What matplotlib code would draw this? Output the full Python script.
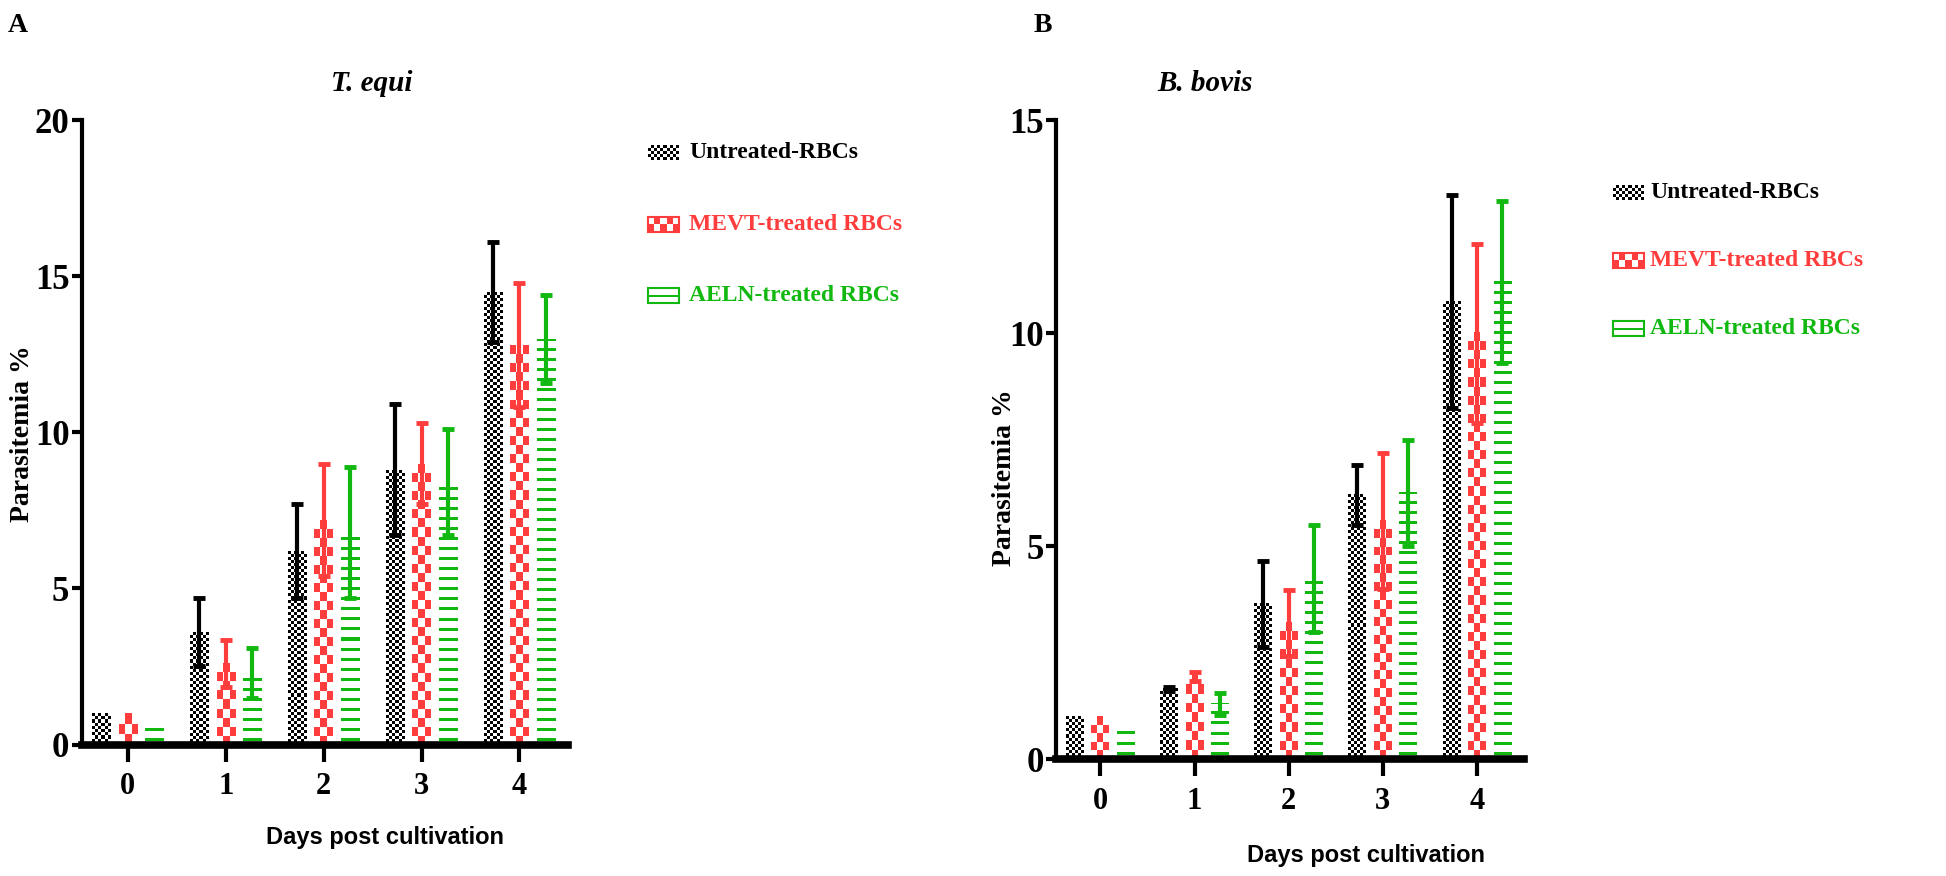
import numpy as np
import matplotlib
matplotlib.use('Agg')
import matplotlib.pyplot as plt
from matplotlib.colors import ListedColormap

plt.rcParams['font.family'] = 'Liberation Serif'

days = [0, 1, 2, 3, 4]
group_names = ['Untreated-RBCs', 'MEVT-treated RBCs', 'AELN-treated RBCs']
group_colors = ['black', '#FF3D3D', '#10B810']
group_fills = ['fine', 'coarse', 'lines']

# T. equi, parasitemia % (mean and SD)
equi_untreated = [1.0, 3.6, 6.2, 8.8, 14.5]
equi_untreated_sd = [0, 1.1, 1.5, 2.1, 1.6]
equi_mevt = [1.0, 2.6, 7.2, 9.0, 12.8]
equi_mevt_sd = [0, 0.75, 1.8, 1.3, 2.0]
equi_aeln = [0.7, 2.3, 6.8, 8.4, 13.0]
equi_aeln_sd = [0, 0.8, 2.1, 1.7, 1.4]

# B. bovis, parasitemia % (mean and SD)
bovis_untreated = [1.0, 1.65, 3.65, 6.2, 10.75]
bovis_untreated_sd = [0, 0.05, 1.0, 0.7, 2.5]
bovis_mevt = [1.0, 1.95, 3.2, 5.6, 10.0]
bovis_mevt_sd = [0, 0.1, 0.77, 1.6, 2.1]
bovis_aeln = [0.8, 1.3, 4.25, 6.25, 11.2]
bovis_aeln_sd = [0, 0.25, 1.25, 1.25, 1.9]

BAR_W = 0.19
OFFSET = 0.27


def pattern_array(kind, w_px, h_px):
    """Build a small image with the fill pattern for a bar of w_px x h_px."""
    if kind == 'fine':
        nx, ny = max(1, round(w_px / 3)), max(1, round(h_px / 3))
        return np.indices((ny, nx)).sum(axis=0) % 2
    if kind == 'coarse':
        nx, ny = max(1, round(w_px / 6)), max(1, round(h_px / 9))
        return np.indices((ny, nx)).sum(axis=0) % 2
    ny = max(1, int(round(h_px)))
    rows = np.arange(ny)
    return (((rows % 10) >= 4) & ((rows % 10) < 7)).astype(int).reshape(-1, 1)


def fill_rect(ax, x0, y0, width, height, kind, color):
    p0 = ax.transData.transform((0, 0))
    p1 = ax.transData.transform((1, 1))
    ppx, ppy = p1 - p0
    arr = pattern_array(kind, width * ppx, height * ppy)
    cmap = ListedColormap(['white', color])
    ax.imshow(arr, cmap=cmap, vmin=0, vmax=1, interpolation='nearest',
              extent=(x0, x0 + width, y0 + height, y0), origin='upper',
              aspect='auto', zorder=2)


def draw_panel(ax, series, sds, ymax, yticks):
    ax.set_xlim(-0.47, 4.5)
    ax.set_ylim(0, ymax)
    x = np.array(days, dtype=float)
    for i, (vals, sd) in enumerate(zip(series, sds)):
        xs = x + (i - 1) * OFFSET
        for xi, v in zip(xs, vals):
            fill_rect(ax, xi - BAR_W / 2, 0, BAR_W, v, group_fills[i], group_colors[i])
        sd = np.array(sd)
        m = sd > 0
        ax.errorbar(xs[m], np.array(vals)[m], yerr=sd[m], fmt='none',
                    ecolor=group_colors[i], elinewidth=3, capsize=4,
                    capthick=3.5, zorder=4)
    ax.set_xlim(-0.47, 4.5)
    ax.set_ylim(0, ymax)
    ax.spines['top'].set_visible(False)
    ax.spines['right'].set_visible(False)
    ax.spines['left'].set_linewidth(3)
    ax.spines['bottom'].set_linewidth(5.5)
    ax.spines['bottom'].set_zorder(6)
    ax.set_xticks(days)
    ax.set_yticks(yticks)
    ax.tick_params(axis='y', length=7, width=3, labelsize=25, pad=2)
    ax.tick_params(axis='x', length=12, width=3, labelsize=22, pad=8)
    for lab in ax.get_xticklabels() + ax.get_yticklabels():
        lab.set_fontweight('bold')


def draw_legend(fig, x_sw, x_txt, ys):
    W = fig.get_figwidth() * fig.dpi
    H = fig.get_figheight() * fig.dpi
    sw, sh = 31 / W, 15 / H
    for name, color, kind, y in zip(group_names, group_colors, group_fills, ys):
        sax = fig.add_axes([x_sw, y - sh / 2, sw, sh])
        arr = pattern_array(kind, 31, 15)
        if kind == 'lines':
            arr = np.zeros((15, 1), dtype=int)
            arr[7:9] = 1
        sax.imshow(arr, cmap=ListedColormap(['white', color]), vmin=0, vmax=1,
                   interpolation='nearest', aspect='auto')
        sax.set_xticks([])
        sax.set_yticks([])
        for s in sax.spines.values():
            s.set_visible(kind != 'fine')
            s.set_color(color)
            s.set_linewidth(1.5)
        fig.text(x_txt, y, name, color=color, fontsize=17, fontweight='bold',
                 va='center', ha='left')


fig = plt.figure(figsize=(19.46, 8.76), dpi=100)

ax1 = fig.add_axes([0.0421, 0.1501, 0.2500, 0.7125])
draw_panel(ax1, [equi_untreated, equi_mevt, equi_aeln],
           [equi_untreated_sd, equi_mevt_sd, equi_aeln_sd], 20, [0, 5, 10, 15, 20])

ax2 = fig.add_axes([0.5427, 0.1331, 0.2405, 0.7295])
draw_panel(ax2, [bovis_untreated, bovis_mevt, bovis_aeln],
           [bovis_untreated_sd, bovis_mevt_sd, bovis_aeln_sd], 15, [0, 5, 10, 15])

# axis titles placed in figure coordinates, as in the original layout
xlab_font = dict(family='Liberation Sans', fontsize=17, fontweight='bold',
                 ha='center', va='center')
fig.text(0.198, 0.044, 'Days post cultivation', **xlab_font)
fig.text(0.702, 0.023, 'Days post cultivation', **xlab_font)
ylab_font = dict(fontsize=20, fontweight='bold', rotation=90,
                 ha='center', va='center')
fig.text(0.0115, 0.505, 'Parasitemia %', **ylab_font)
fig.text(0.516, 0.455, 'Parasitemia %', **ylab_font)

fig.text(0.191, 0.905, 'T. equi', fontsize=21, style='italic', fontweight='bold', ha='center', va='center')
fig.text(0.619, 0.905, 'B. bovis', fontsize=21, style='italic', fontweight='bold', ha='center', va='center')
fig.text(0.004, 0.985, 'A', fontsize=20, fontweight='bold', ha='left', va='top')
fig.text(0.531, 0.985, 'B', fontsize=20, fontweight='bold', ha='left', va='top')

draw_legend(fig, 0.333, 0.354, [0.826, 0.744, 0.663])
draw_legend(fig, 0.829, 0.848, [0.780, 0.703, 0.625])

fig.savefig('out.png', dpi=100)
